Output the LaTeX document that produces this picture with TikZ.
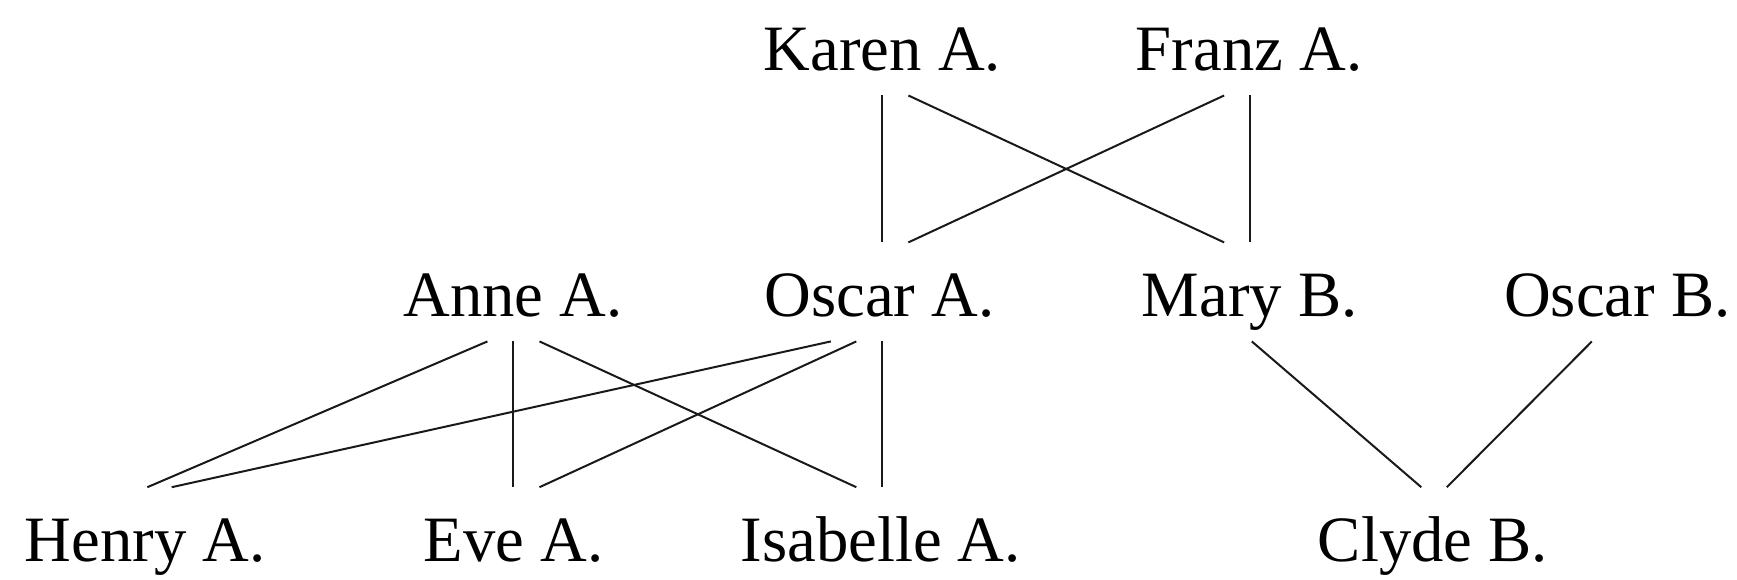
\documentclass[tikz,border=0pt]{standalone}
\usepackage{fontspec}
\setmainfont{Liberation Serif}
\begin{document}
\begin{tikzpicture}[x=1pt,y=1pt,
  person/.style={anchor=base, inner sep=0pt, text height=67pt, text depth=22pt,
    font=\fontsize{58.4}{60}\selectfont},
  tie/.style={draw=black!90, line width=1.8pt}]
\useasboundingbox (0,0) rectangle (1568,523);

% generations (baselines)
\node[person] (karen)    at (796.5,459) {Karen A.};
\node[person] (franz)    at (1127.5,459) {Franz A.};
\node[person] (anne)     at (463,237)   {Anne A.};
\node[person] (oscara)   at (794,237)   {Oscar A.};
\node[person] (mary)     at (1128,237)  {Mary B.};
\node[person] (oscarb)   at (1460,237)  {Oscar B.};
\node[person] (henry)    at (131,16)    {Henry A.};
\node[person] (eve)      at (463.5,16)  {Eve A.};
\node[person] (isabelle) at (795,16)    {Isabelle A.};
\node[person] (clyde)    at (1293.5,16) {Clyde B.};

% parent--child links
\draw[tie] ([xshift=-0.5pt]karen.south) -- ([xshift=2pt]oscara.north);
\draw[tie] ([xshift=23.5pt]karen.south) -- ([xshift=-23pt]mary.north);
\draw[tie] ([xshift=-22.5pt]franz.south) -- ([xshift=26pt]oscara.north);
\draw[tie] ([xshift=0.5pt]franz.south) -- (mary.north);

\draw[tie] ([xshift=-23pt]anne.south) -- ([xshift=2pt]henry.north);
\draw[tie] (anne.south) -- ([xshift=-0.5pt]eve.north);
\draw[tie] ([xshift=24pt]anne.south) -- ([xshift=-22pt]isabelle.north);
\draw[tie] ([xshift=-44pt]oscara.south) -- ([xshift=24pt]henry.north);
\draw[tie] ([xshift=-21pt]oscara.south) -- ([xshift=23.5pt]eve.north);
\draw[tie] ([xshift=2pt]oscara.south) -- ([xshift=1pt]isabelle.north);

\draw[tie] ([xshift=2pt]mary.south) -- ([xshift=-10.5pt]clyde.north);
\draw[tie] ([xshift=-23pt]oscarb.south) -- ([xshift=12.5pt]clyde.north);
\end{tikzpicture}
\end{document}
